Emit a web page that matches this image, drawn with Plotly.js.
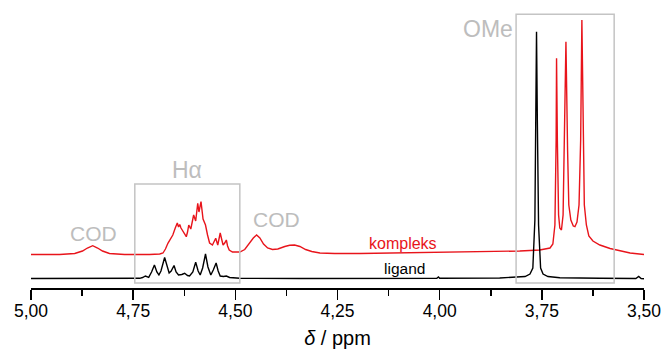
<!DOCTYPE html>
<html>
<head>
<meta charset="utf-8">
<script src="https://cdn.plot.ly/plotly-3.0.1.min.js"></script>
<style>html,body{margin:0;padding:0;background:#fff;}#chart{width:665px;height:349px;}</style>
</head>
<body>
<div id="chart"></div>
<script>
// Chemical shift (ppm) and intensity (arbitrary units)
const kompleksPpm = [5.000,4.930,4.893,4.874,4.862,4.849,4.837,4.825,4.808,4.771,4.710,4.685,4.677,4.671,4.665,4.658,4.653,4.647,4.642,4.639,4.636,4.633,4.628,4.624,4.620,4.617,4.614,4.609,4.602,4.597,4.592,4.589,4.584,4.579,4.573,4.568,4.563,4.556,4.552,4.548,4.543,4.540,4.537,4.533,4.530,4.526,4.522,4.519,4.515,4.507,4.489,4.477,4.465,4.456,4.448,4.440,4.431,4.421,4.409,4.396,4.379,4.367,4.355,4.342,4.328,4.313,4.293,4.257,4.195,4.097,4.000,3.902,3.804,3.755,3.730,3.723,3.718,3.715,3.714,3.712,3.709,3.706,3.702,3.698,3.695,3.691,3.687,3.684,3.679,3.673,3.669,3.664,3.659,3.655,3.652,3.649,3.646,3.641,3.635,3.625,3.608,3.583,3.559,3.534,3.500];
const kompleksInt = [33.5,33.5,34.5,37,40,42.3,40,37,34.5,33.5,33.5,34,35,39,44.7,50,53,60,65,61,63.5,60,56.3,54,51.3,56,63,59,73,67,84.7,76,86.3,69,63,53,45,43,47,49.7,43,48,55,48,43,45,48,42,38,36,36,38.5,45,50,53,50,44,40,38.5,39,41.5,42.8,43,41.5,38.5,36.5,35,34.5,34.5,35,35.5,36,37,38,40,44,63,148,229.7,148,73,60,58,73,138,246.3,138,83,68,62,61.3,66,83,148,268,148,83,63,52,47,43,39.5,37,35,33.5];

const ligandPpm = [5.000,4.832,4.734,4.727,4.720,4.712,4.705,4.698,4.692,4.687,4.682,4.673,4.668,4.662,4.657,4.650,4.645,4.639,4.631,4.624,4.617,4.612,4.604,4.597,4.591,4.586,4.580,4.573,4.567,4.560,4.554,4.547,4.542,4.537,4.529,4.522,4.514,4.489,4.342,4.097,4.007,4.003,4.000,3.853,3.816,3.791,3.779,3.772,3.767,3.764,3.763,3.761,3.758,3.753,3.747,3.735,3.706,3.608,3.520,3.513,3.507,3.500];
const ligandInt = [9.5,9.5,9.7,10.5,12,10.7,16,23,16,13,17,30.5,22,15,17,22.5,16,13,13.5,14.7,12.5,12,16,25.8,17,13,20,34,21,13,18,25,17,12,11.5,12,10.5,9.7,9.5,9.5,9.7,11,9.7,10,10.5,11.5,14,20,68,168,256.3,168,63,20,14,11.5,10.2,9.7,9.5,11.5,9.5,9.3];

const tickVals = [5.00, 4.75, 4.50, 4.25, 4.00, 3.75, 3.50];
const tickText = ['5,00', '4,75', '4,50', '4,25', '4,00', '3,75', '3,50'];

const seriesNames = ['kompleks', 'ligand'];
const seriesColors = ['#e8141b', '#000000'];

// Region boxes [ppm from, ppm to, intensity from, intensity to] and labels
const regionLabels = ['H\u03B1', 'OMe'];
const regionBoxes = [[4.746, 4.489, 5, 104], [3.813, 3.573, 5, 273.7]];
const signalLabels = ['COD', 'COD'];
const signalLabelPos = [[4.847, 55], [4.399, 69]];

const gray = '#bdbdbd';

const traces = [
  {x: kompleksPpm, y: kompleksInt, type: 'scatter', mode: 'lines', name: seriesNames[0],
   line: {color: seriesColors[0], width: 1.4}, hoverinfo: 'skip'},
  {x: ligandPpm, y: ligandInt, type: 'scatter', mode: 'lines', name: seriesNames[1],
   line: {color: seriesColors[1], width: 1.4}, hoverinfo: 'skip'}
];

const shapes = regionBoxes.map(b => ({
  type: 'rect', xref: 'x', yref: 'y', x0: b[0], x1: b[1], y0: b[2], y1: b[3],
  line: {color: '#c4c4c4', width: 1.5}, fillcolor: 'rgba(0,0,0,0)'
}));

const annotations = [
  {x: 4.619, y: 118, text: regionLabels[0], font: {size: 23, color: gray}},
  {x: 3.882, y: 259, text: regionLabels[1], font: {size: 23, color: gray}},
  {x: signalLabelPos[0][0], y: signalLabelPos[0][1], text: signalLabels[0], font: {size: 21, color: gray}},
  {x: signalLabelPos[1][0], y: signalLabelPos[1][1], text: signalLabels[1], font: {size: 21, color: gray}},
  {x: 4.090, y: 45, text: seriesNames[0], font: {size: 16, color: seriesColors[0]}},
  {x: 4.085, y: 20, text: seriesNames[1], font: {size: 15.5, color: seriesColors[1]}}
].map(a => Object.assign({xref: 'x', yref: 'y', showarrow: false, xanchor: 'center', yanchor: 'middle'}, a));

const layout = {
  width: 665, height: 349,
  margin: {l: 31, r: 21, t: 8, b: 61, pad: 0},
  paper_bgcolor: '#ffffff', plot_bgcolor: '#ffffff',
  font: {family: 'Liberation Sans, Arial, sans-serif', color: '#000'},
  showlegend: false,
  xaxis: {
    range: [5.0, 3.5], autorange: false,
    tickmode: 'array', tickvals: tickVals, ticktext: tickText,
    ticks: 'outside', ticklen: 10, tickwidth: 1.5, tickcolor: '#000',
    ticklabelstandoff: -4,
    minor: {dtick: 0.125, tick0: 3.5, ticks: 'outside', ticklen: 6, tickwidth: 1.5, tickcolor: '#000', showgrid: false},
    showline: true, linecolor: '#000', linewidth: 1.5,
    showgrid: false, zeroline: false,
    tickfont: {size: 17.5, color: '#000'},
    title: {text: '<i>\u03B4</i> / ppm', font: {size: 20, color: '#000'}, standoff: 14}
  },
  yaxis: {
    range: [0, 280], autorange: false,
    visible: false, showgrid: false, zeroline: false, showline: false, showticklabels: false
  },
  shapes: shapes,
  annotations: annotations
};

Plotly.newPlot('chart', traces, layout, {displayModeBar: false, staticPlot: true});
</script>
</body>
</html>
